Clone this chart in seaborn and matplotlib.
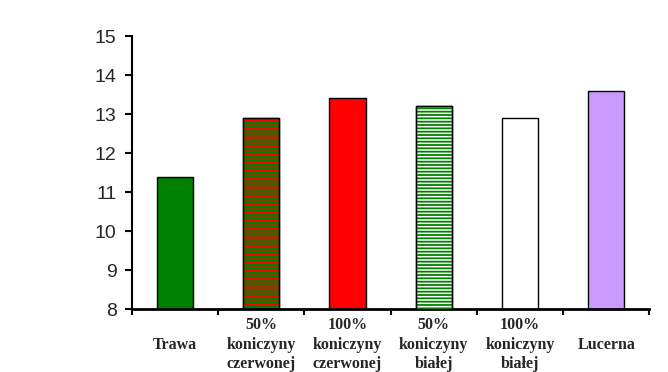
import numpy as np
import pandas as pd
import matplotlib
matplotlib.use("Agg")
import matplotlib.pyplot as plt
import seaborn as sns
from matplotlib.patches import Rectangle

# data
categories = ["Trawa", "50%\nkoniczyny\nczerwonej", "100%\nkoniczyny\nczerwonej",
              "50%\nkoniczyny\nbiałej", "100%\nkoniczyny\nbiałej", "Lucerna"]
values = [11.4, 12.9, 13.4, 13.2, 12.9, 13.6]
face_colors = ["#008000", "#804000", "#ff0000", "#ffffff", "#ffffff", "#cc99ff"]
y_ticks = [8, 9, 10, 11, 12, 13, 14, 15]

sns.set_style("white")
plt.rcParams["hatch.linewidth"] = 1.3

df = pd.DataFrame({"cat": categories, "val": values})

fig, ax = plt.subplots(figsize=(6.68, 3.72), dpi=100)
fig.subplots_adjust(left=0.1976, right=0.972, bottom=0.169, top=0.903)

sns.barplot(data=df, x="cat", y="val", hue="cat", palette=face_colors,
            width=0.42, edgecolor="black", linewidth=1.0, legend=False, ax=ax,
            saturation=1)

# hatching: striped bars (hatch colour follows edgecolor, so overlay extra patches)
def add_hatch(p, hatch, color):
    r = Rectangle((p.get_x(), p.get_y()), p.get_width(), p.get_height(),
                  fill=False, hatch=hatch, edgecolor=color, linewidth=0, zorder=3)
    ax.add_patch(r)

def add_outline(p):
    r = Rectangle((p.get_x(), p.get_y()), p.get_width(), p.get_height(),
                  fill=False, edgecolor="black", linewidth=1.0, zorder=4)
    ax.add_patch(r)

bars = ax.patches[:len(categories)]
add_hatch(bars[1], "----", "#008000")
add_hatch(bars[1], "--", "#ff0000")
add_outline(bars[1])
add_hatch(bars[3], "-----", "#008000")
add_outline(bars[3])

ax.set_ylim(8, 15)
ax.set_xlim(-0.5, len(categories) - 0.5)
ax.set_yticks(y_ticks)
ax.set_yticklabels([str(t) for t in y_ticks], fontsize=14, family="Liberation Sans")

# tick marks at category boundaries, labels at centres
ax.set_xticks(np.arange(-0.5, len(categories), 1.0))
ax.set_xticklabels([])
ax.set_xticks(np.arange(len(categories)), minor=True)
ax.set_xticklabels(categories, minor=True, fontsize=11.5, family="Liberation Serif",
                   fontweight="bold", va="center", linespacing=1.3)
ax.tick_params(axis="x", which="major", direction="out", length=4, width=1.5,
               bottom=True, color="black")
ax.tick_params(axis="x", which="minor", length=0, pad=25.5)
ax.tick_params(axis="y", direction="out", length=5, width=1.5, left=True,
               color="black", pad=6)

ax.set_xlabel("")
ax.set_ylabel("")
sns.despine(ax=ax)
ax.spines["bottom"].set_linewidth(2.0)
ax.spines["left"].set_linewidth(1.5)
ax.spines["bottom"].set_color("black")
ax.spines["left"].set_color("black")

fig.savefig("out.png", dpi=100)
